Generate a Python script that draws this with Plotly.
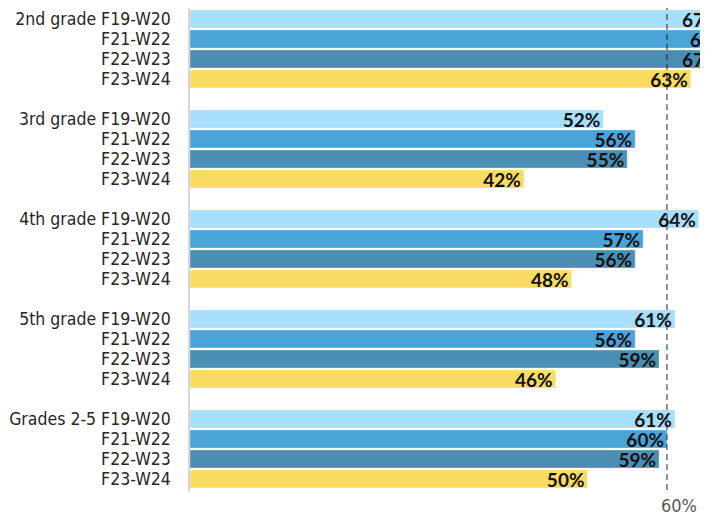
import plotly.graph_objects as go

groups = ["2nd grade", "3rd grade", "4th grade", "5th grade", "Grades 2-5"]
series = ["F19-W20", "F21-W22", "F22-W23", "F23-W24"]
f19_w20 = [67, 52, 64, 61, 61]
f21_w22 = [68, 56, 57, 56, 60]
f22_w23 = [67, 55, 56, 59, 59]
f23_w24 = [63, 42, 48, 46, 50]
benchmark = 60

values = [f19_w20, f21_w22, f22_w23, f23_w24]
colors = ["#A6DEFB", "#4BA4D8", "#4A8FB3", "#F9DB64"]

LABEL_FONT = "DejaVu Sans Condensed, Liberation Sans"
SLOT = len(series) + 1
fig = go.Figure()
for s, (name, vals, col) in enumerate(zip(series, values, colors)):
    ys = [g * SLOT + s for g in range(len(groups))]
    fig.add_trace(go.Bar(
        x=vals, y=ys, orientation="h", name=name,
        marker=dict(color=col, line=dict(color="rgba(255,255,255,0.6)", width=0.5)),
        width=0.9,
        text=[f"{v}%" for v in vals],
        textposition="inside", insidetextanchor="end", constraintext="none",
        textfont=dict(family="Lato", size=19, color="#111111", weight="bold"),
        cliponaxis=True, showlegend=False, hoverinfo="skip",
    ))

tickvals, ticktext = [], []
for g, grp in enumerate(groups):
    for s, name in enumerate(series):
        tickvals.append(g * SLOT + s)
        ticktext.append(f"{grp} {name}" if s == 0 else name)

fig.add_shape(type="line", xref="x", yref="paper", x0=benchmark, x1=benchmark,
              y0=0.004, y1=1.0, line=dict(color="#222222", width=1, dash="6px,4px"),
              layer="above")
fig.add_annotation(x=benchmark, y=0, xref="x", yref="paper", text=f"{benchmark}%",
                   showarrow=False, xanchor="left", yanchor="middle", xshift=-8, yshift=-13,
                   font=dict(family=LABEL_FONT, size=18, color="#595959"))

n_slots = len(groups) * SLOT - 1
fig.update_layout(
    width=708, height=514,
    margin=dict(l=182, r=8, t=0, b=30),
    plot_bgcolor="white", paper_bgcolor="white",
    barmode="overlay",
    xaxis=dict(range=[0, 65.16], showgrid=False, zeroline=False, showline=False,
               showticklabels=False, ticks="", automargin=False),
    yaxis=dict(range=[n_slots - 0.35, -0.55], tickmode="array", tickvals=tickvals,
               ticktext=ticktext, showgrid=False, zeroline=False, showline=True,
               linecolor="#D6D6D6", linewidth=1.5, ticks="", ticklabelstandoff=14,
               automargin=False,
               tickfont=dict(family=LABEL_FONT, size=17.5, color="#262626")),
)

fig.write_html("out.html")
